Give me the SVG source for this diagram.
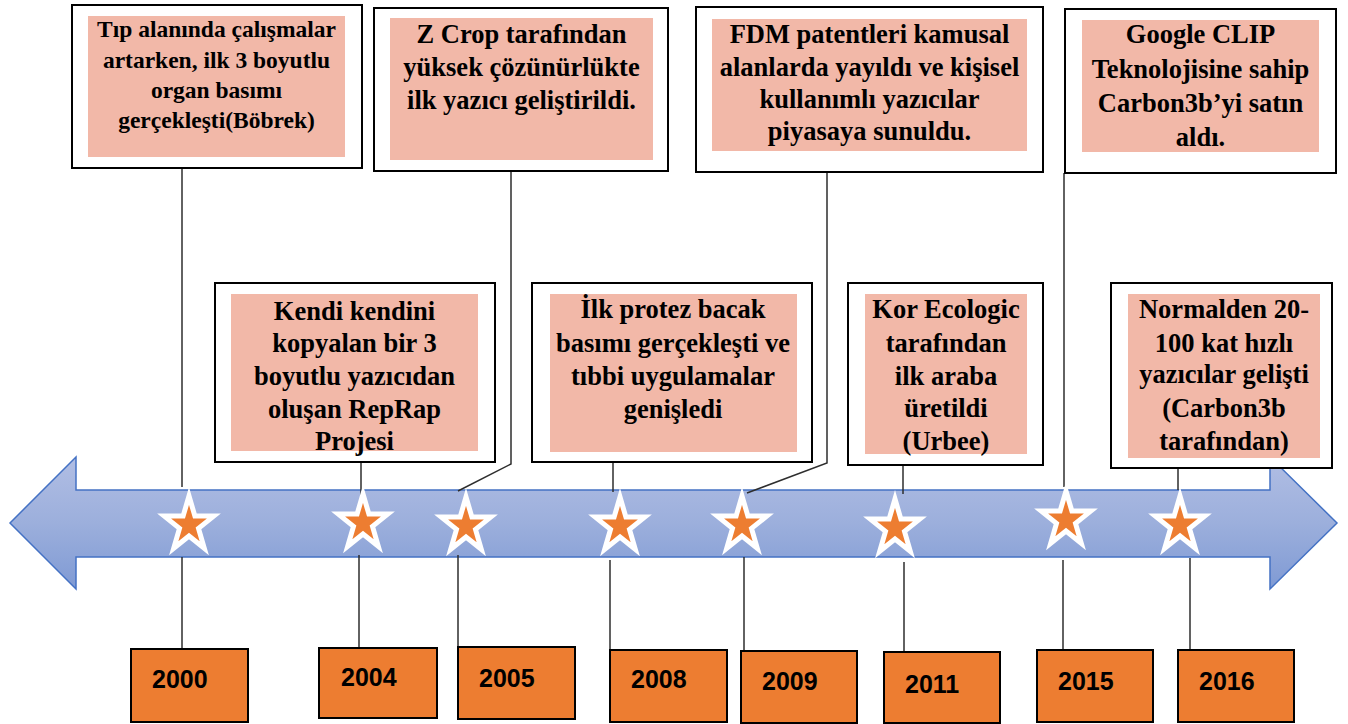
<svg xmlns="http://www.w3.org/2000/svg" width="1348" height="724" viewBox="0 0 1348 724">
<style>
.box{fill:#fff;stroke:#000;stroke-width:2}
.pad{fill:#f2b8a8}
.t{font-family:"Liberation Serif","Times New Roman",serif;font-weight:bold;font-size:26.5px;fill:#000;text-anchor:middle}
.ts{font-size:23.5px}
.yr{fill:#ed7d31;stroke:#000;stroke-width:2}
.yt{font-family:"Liberation Sans",Arial,sans-serif;font-weight:bold;font-size:25px;fill:#000}
.ln{stroke:#2e2e2e;stroke-width:1.5;fill:none}
.star{fill:#ed7d31;stroke:#fff;stroke-width:5;stroke-linejoin:miter}
</style>
<defs>
<linearGradient id="ag" x1="0" y1="0" x2="0" y2="1">
<stop offset="0" stop-color="#b1bee4"/>
<stop offset="0.5" stop-color="#9cafdc"/>
<stop offset="1" stop-color="#7f9ad4"/>
</linearGradient>
<polygon id="st" points="0,-29 5.9,-8.9 24.8,-8.9 9.5,3.4 15.3,23.3 0,11 -15.3,23.3 -9.5,3.4 -24.8,-8.9 -5.9,-8.9"/>
</defs>
<rect width="1348" height="724" fill="#fff"/>
<g id="timeline-arrow">
<path d="M10,523 L76,457 L76,490 L1270,490 L1270,457 L1337,523 L1270,589 L1270,557 L76,557 L76,589 Z" fill="url(#ag)" stroke="#4472c4" stroke-width="1.5" stroke-linejoin="miter"/>
</g>
<g id="connectors">
<line class="ln" x1="182" y1="169" x2="182" y2="487"/>
<line class="ln" x1="182" y1="557" x2="182" y2="649"/>
<line class="ln" x1="361" y1="462" x2="361" y2="496"/>
<line class="ln" x1="359" y1="555" x2="359" y2="648"/>
<polyline class="ln" points="511,172 511,464 458,491"/>
<line class="ln" x1="458" y1="555" x2="458" y2="647"/>
<line class="ln" x1="613" y1="462" x2="613" y2="492"/>
<line class="ln" x1="610" y1="560" x2="610" y2="650"/>
<polyline class="ln" points="827,172 827,463 747,493"/>
<line class="ln" x1="744" y1="557" x2="744" y2="651"/>
<line class="ln" x1="903" y1="465" x2="903" y2="494"/>
<line class="ln" x1="904" y1="562" x2="904" y2="652"/>
<line class="ln" x1="1064" y1="173" x2="1064" y2="487"/>
<line class="ln" x1="1063" y1="560" x2="1063" y2="650"/>
<line class="ln" x1="1178" y1="468" x2="1178" y2="490"/>
<line class="ln" x1="1190" y1="558" x2="1190" y2="650"/>
</g>
<g id="stars">
<use href="#st" class="star" x="189" y="525"/>
<use href="#st" class="star" x="363" y="523"/>
<use href="#st" class="star" x="466" y="526"/>
<use href="#st" class="star" x="620" y="526"/>
<use href="#st" class="star" x="742" y="525"/>
<use href="#st" class="star" x="895" y="528"/>
<use href="#st" class="star" x="1066" y="520"/>
<use href="#st" class="star" x="1180" y="525"/>
</g>
<g id="event-2000">
<rect class="box" x="72" y="5" width="290" height="163"/>
<rect class="pad" x="88" y="16" width="257" height="141"/>
<text class="t ts" x="216.5" y="37">Tıp alanında çalışmalar</text>
<text class="t ts" x="216.5" y="68">artarken, ilk 3 boyutlu</text>
<text class="t ts" x="216.5" y="98">organ basımı</text>
<text class="t ts" x="216.5" y="128">gerçekleşti(Böbrek)</text>
</g>
<g id="event-2005">
<rect class="box" x="374" y="8" width="294" height="163"/>
<rect class="pad" x="390" y="18" width="263" height="142"/>
<text class="t" x="521.5" y="43">Z Crop tarafından</text>
<text class="t" x="521.5" y="76">yüksek çözünürlükte</text>
<text class="t" x="521.5" y="109">ilk yazıcı geliştirildi.</text>
</g>
<g id="event-2009">
<rect class="box" x="696" y="7" width="347" height="165"/>
<rect class="pad" x="712" y="19" width="315" height="132"/>
<text class="t" x="869.5" y="43">FDM patentleri kamusal</text>
<text class="t" x="869.5" y="76">alanlarda yayıldı ve kişisel</text>
<text class="t" x="869.5" y="108">kullanımlı yazıcılar</text>
<text class="t" x="869.5" y="140">piyasaya sunuldu.</text>
</g>
<g id="event-2015">
<rect class="box" x="1065" y="9" width="271" height="164"/>
<rect class="pad" x="1082" y="20" width="237" height="132"/>
<text class="t" x="1200.5" y="43">Google CLIP</text>
<text class="t" x="1200.5" y="77.5">Teknolojisine sahip</text>
<text class="t" x="1200.5" y="112">Carbon3b’yi satın</text>
<text class="t" x="1200.5" y="146">aldı.</text>
</g>
<g id="event-2004">
<rect class="box" x="215" y="283" width="280" height="179"/>
<rect class="pad" x="231" y="294" width="247" height="157"/>
<text class="t" x="354.5" y="320">Kendi kendini</text>
<text class="t" x="354.5" y="352">kopyalan bir 3</text>
<text class="t" x="354.5" y="385">boyutlu yazıcıdan</text>
<text class="t" x="354.5" y="418">oluşan RepRap</text>
<text class="t" x="354.5" y="450">Projesi</text>
</g>
<g id="event-2008">
<rect class="box" x="532" y="283" width="280" height="179"/>
<rect class="pad" x="550" y="294" width="247" height="158"/>
<text class="t" x="673" y="318">İlk protez bacak</text>
<text class="t" x="673" y="352">basımı gerçekleşti ve</text>
<text class="t" x="673" y="385">tıbbi uygulamalar</text>
<text class="t" x="673" y="418">genişledi</text>
</g>
<g id="event-2011">
<rect class="box" x="848" y="283" width="195" height="182"/>
<rect class="pad" x="865" y="294" width="162" height="160"/>
<text class="t" x="946" y="318">Kor Ecologic</text>
<text class="t" x="946" y="352">tarafından</text>
<text class="t" x="946" y="385">ilk araba</text>
<text class="t" x="946" y="417">üretildi</text>
<text class="t" x="946" y="450">(Urbee)</text>
</g>
<g id="event-2016">
<rect class="box" x="1111" y="283" width="221" height="185"/>
<rect class="pad" x="1128" y="294" width="192" height="164"/>
<text class="t" x="1224" y="318">Normalden 20-</text>
<text class="t" x="1224" y="352">100 kat hızlı</text>
<text class="t" x="1224" y="383">yazıcılar gelişti</text>
<text class="t" x="1224" y="417">(Carbon3b</text>
<text class="t" x="1224" y="450">tarafından)</text>
</g>
<g id="year-2000"><rect class="yr" x="131" y="649" width="117" height="73"/><text class="yt" x="152" y="688">2000</text></g>
<g id="year-2004"><rect class="yr" x="319" y="648" width="118" height="70"/><text class="yt" x="341" y="686">2004</text></g>
<g id="year-2005"><rect class="yr" x="458" y="647" width="117" height="72"/><text class="yt" x="479" y="687">2005</text></g>
<g id="year-2008"><rect class="yr" x="610" y="650" width="117" height="72"/><text class="yt" x="631" y="688">2008</text></g>
<g id="year-2009"><rect class="yr" x="741" y="651" width="116" height="72"/><text class="yt" x="762" y="690">2009</text></g>
<g id="year-2011"><rect class="yr" x="884" y="652" width="116" height="71"/><text class="yt" x="905" y="693">2011</text></g>
<g id="year-2015"><rect class="yr" x="1037" y="650" width="116" height="72"/><text class="yt" x="1058" y="690">2015</text></g>
<g id="year-2016"><rect class="yr" x="1178" y="650" width="116" height="72"/><text class="yt" x="1199" y="690">2016</text></g>
</svg>
